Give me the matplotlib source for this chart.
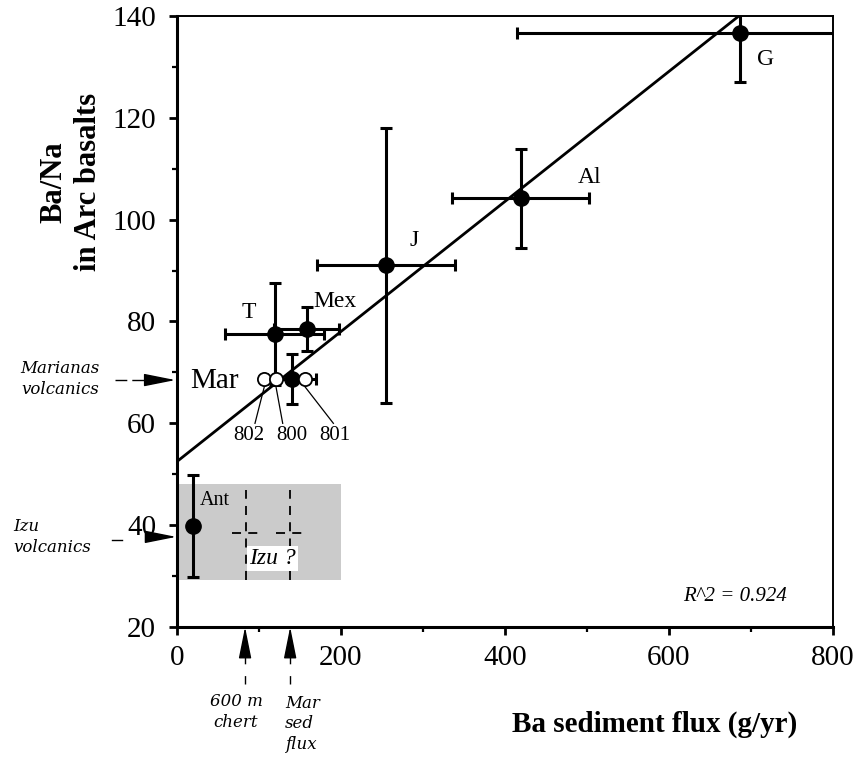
import matplotlib.pyplot as plt
from matplotlib.patches import Rectangle
from matplotlib.ticker import MultipleLocator

plt.rcParams['font.family'] = ['Liberation Serif', 'DejaVu Serif']

# arc data: Ba sediment flux vs Ba/Na in arc basalts
arcs = ['G', 'Al', 'J', 'Mex', 'T', 'Mar', 'Ant']
flux = [687, 419, 255, 158, 119, 140, 19]
flux_err = [272, 84, 84, 40, 60, 30, 0]
ba_na = [136.7, 104.2, 91.0, 78.5, 77.5, 68.65, 39.9]
ba_na_err = [9.6, 9.7, 27, 4.3, 10, 4.9, 10]

# ODP sites (open circles) at the Marianas level
sites = ['802', '800', '801']
site_flux = [106.5, 120.7, 156.0]
site_ba_na = [68.65, 68.65, 68.65]

# regression line
intercept = 52.5
slope = 0.1277
r2 = 0.924

fig = plt.figure(figsize=(8.58, 7.58), dpi=100)
ax = fig.add_axes([177/858, 1-627/758, 656/858, 611/758])
ax.set_xlim(0, 800)
ax.set_ylim(20, 140)

# grey Izu box
ax.add_patch(Rectangle((0, 29.2), 200, 18.8, facecolor='#cbcbcb', edgecolor='none', zorder=0))
for xv in [84, 138]:
    ax.plot([xv, xv], [29.2, 46.9], color='black', lw=1.3, ls=(0, (5, 4)), zorder=1)
    ax.plot([xv-17, xv+17], [38.4, 38.4], color='black', lw=1.3, ls=(0, (5, 4)), zorder=1)
ax.text(116, 33.4, 'Izu ?', fontsize=17, style='italic', ha='center', va='center', zorder=2,
        bbox=dict(facecolor='white', edgecolor='none', pad=1.5))

# fit line
ax.axline((0, intercept), slope=slope, color='black', lw=2, zorder=2)

for i in range(len(arcs)):
    ax.errorbar(flux[i], ba_na[i], xerr=flux_err[i] or None, yerr=ba_na_err[i],
                fmt='o', color='black', ms=11, elinewidth=2.2, capsize=4, capthick=2.2, zorder=3)

ax.plot(site_flux, site_ba_na, 'o', ms=9.5, mfc='white', mec='black', mew=1.3, zorder=4)

# labels for arcs
lab_pos = {'G': (718, 131.5), 'Al': (503, 108.2), 'J': (289, 95.9), 'Mex': (193, 84.0),
           'T': (88, 81.7)}
for name, (lx, ly) in lab_pos.items():
    ax.text(lx, ly, name, fontsize=17, ha='center', va='center')
ax.text(46, 68.4, 'Mar', fontsize=21, ha='center', va='center')
ax.text(28, 44.8, 'Ant', fontsize=14.5, ha='left', va='center', zorder=3)

# site labels with leader lines
site_lab_x = [87, 140, 193]
site_line_end = [95.1, 128.9, 190.7]
for i in range(len(sites)):
    ax.plot([site_flux[i], site_line_end[i]], [67.2, 60.0], color='black', lw=0.9, zorder=3)
    ax.text(site_lab_x[i], 57.7, sites[i], fontsize=15, ha='center', va='center')

ax.text(681, 26.0, f'R^2 = {r2}', fontsize=15, style='italic', ha='center', va='center')

# axes styling
for s in ['left', 'bottom']:
    ax.spines[s].set_linewidth(2.2)
for s in ['top', 'right']:
    ax.spines[s].set_linewidth(1.4)
ax.xaxis.set_major_locator(MultipleLocator(200))
ax.xaxis.set_minor_locator(MultipleLocator(100))
ax.yaxis.set_major_locator(MultipleLocator(20))
ax.yaxis.set_minor_locator(MultipleLocator(10))
ax.tick_params(which='major', length=6, width=2, labelsize=21)
ax.tick_params(which='minor', length=3.5, width=1.6)
ax.tick_params(axis='x', which='major', pad=7)
ax.tick_params(axis='y', which='major', pad=9)

# arrows outside the axes
head = dict(arrowstyle='-|>,head_length=1.4,head_width=0.28', color='black',
            mutation_scale=14, shrinkA=0, shrinkB=0, lw=1)
ax.plot([-75.6, -36.6], [68.5, 68.5], color='black', lw=1, ls=(0, (8.5, 3.6)), clip_on=False)
ax.annotate('', xy=(-2, 68.5), xytext=(-37, 68.5), arrowprops=head, annotation_clip=False)
ax.plot([-79, -67], [37.1, 37.1], color='black', lw=1, clip_on=False)
ax.annotate('', xy=(-1, 37.7), xytext=(-35.5, 37.7), arrowprops=head, annotation_clip=False)
for xv in [83, 138]:
    ax.plot([xv, xv], [15.1, 8.8], color='black', lw=1, ls=(0, (8.5, 8.5)), clip_on=False)
    ax.annotate('', xy=(xv, 20), xytext=(xv, 15.1), arrowprops=head, annotation_clip=False)

it = dict(family=['DejaVu Serif'], style='italic', fontsize=12, linespacing=1.3)
fig.text(60/858, 1-379/758, 'Marianas\nvolcanics', ha='center', va='center', **it)
fig.text(13/858, 1-537/758, 'Izu\nvolcanics', ha='left', va='center', **it)
fig.text(236/858, 1-712/758, '600 m\nchert', ha='center', va='center', **it)
fig.text(285/858, 1-724/758, 'Mar\nsed\nflux', ha='left', va='center', **it)

fig.text(655/858, 1-724/758, 'Ba sediment flux (g/yr)', fontsize=21, fontweight='bold',
         ha='center', va='center')
fig.text(71/858, 1-182/758, 'Ba/Na\nin Arc basalts', fontsize=22, fontweight='bold',
         rotation=90, ha='center', va='center', multialignment='center', linespacing=1.25)

fig.savefig('out.png', dpi=100)
